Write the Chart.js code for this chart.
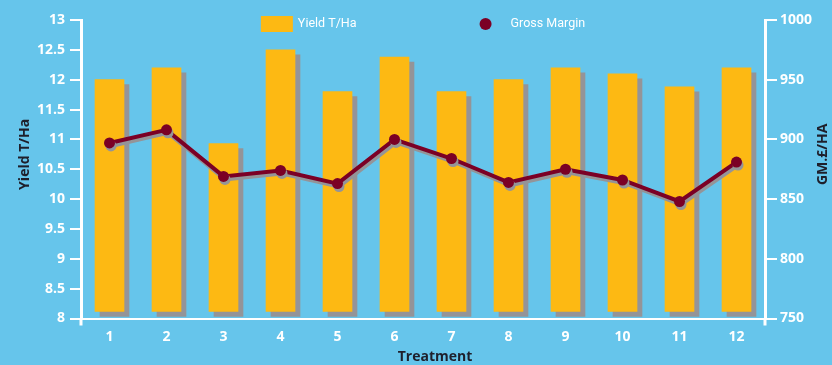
<!DOCTYPE html>
<html>
<head>
<meta charset="utf-8">
<script src="https://cdn.jsdelivr.net/npm/chart.js@4/dist/chart.umd.min.js"></script>
<style>
  html, body { margin: 0; padding: 0; background: #66c5eb; }
  #trialChart { display: block; }
</style>
</head>
<body>
<canvas id="trialChart" width="832" height="365"></canvas>
<script>
const treatments  = ["1", "2", "3", "4", "5", "6", "7", "8", "9", "10", "11", "12"];
const yieldTHa    = [12.0, 12.2, 10.93, 12.5, 11.8, 12.38, 11.8, 12.0, 12.2, 12.1, 11.88, 12.2];
const grossMargin = [897, 908, 869, 874, 863, 900, 884, 864, 875, 866, 848, 881];

const YIELD_MIN = 8, YIELD_MAX = 13, YIELD_STEP = 0.5;
const GM_MIN = 750, GM_MAX = 1000, GM_STEP = 50;
const BAR_BASE = 8.12;

const BLUE   = "#66c5eb";
const YELLOW = "#fdb913";
const MAROON = "#7b0025";
const SHADOW = "#949498";
const WHITE  = "#ffffff";
const INK    = "#1e1f2b";

Chart.defaults.font.family = "'Open Sans', sans-serif";

// drop shadows, axis stubs, titles and the legend strip
const decor = {
    id: "decor",
    beforeDatasetDraw(chart, args) {
        const ds = chart.data.datasets[args.index];
        const ctx = chart.ctx;
        ctx.save();
        ctx.shadowColor = SHADOW;
        ctx.shadowBlur = 0;
        if (ds.type === "bar") {
            ctx.shadowOffsetX = 5;
            ctx.shadowOffsetY = 5;
        } else {
            ctx.shadowOffsetX = 1.5;
            ctx.shadowOffsetY = 3;
        }
    },
    afterDatasetDraw(chart) {
        chart.ctx.restore();
    },
    afterDraw(chart) {
        const ctx = chart.ctx;
        const a = chart.chartArea;
        ctx.save();

        // vertical axes run a little past the baseline
        ctx.strokeStyle = WHITE;
        ctx.lineWidth = 3;
        ctx.beginPath();
        ctx.moveTo(a.left, a.bottom);
        ctx.lineTo(a.left, a.bottom + 7);
        ctx.moveTo(a.right, a.bottom);
        ctx.lineTo(a.right, a.bottom + 7);
        ctx.stroke();

        // axis titles
        ctx.fillStyle = INK;
        ctx.font = "bold 14px 'Open Sans', sans-serif";
        ctx.textAlign = "center";
        ctx.textBaseline = "middle";
        const midY = a.top + (a.bottom - a.top) * 0.45;

        ctx.save();
        ctx.translate(25, midY);
        ctx.rotate(-Math.PI / 2);
        ctx.fillText("Yield T/Ha", 0, 0);
        ctx.restore();

        ctx.save();
        ctx.translate(chart.width - 9, midY);
        ctx.rotate(-Math.PI / 2);
        ctx.fillText("GM.£/HA", 0, 0);
        ctx.restore();

        ctx.fillText("Treatment", (a.left + a.right) / 2 + 12, chart.height - 8);

        // legend
        const bar = chart.data.datasets[0];
        const line = chart.data.datasets[1];
        ctx.font = "12.5px Roboto, sans-serif";
        ctx.textAlign = "left";
        const w1 = ctx.measureText(bar.label).width;
        const w2 = ctx.measureText(line.label).width;
        const boxW = 32, boxH = 16, r = 6, gap = 123;
        const total = boxW + 5 + w1 + gap + 2 * r + 19 + w2;
        let x = (a.left + a.right) / 2 - total / 2;
        const cy = a.top + 4;

        ctx.fillStyle = bar.backgroundColor;
        ctx.fillRect(x, cy - boxH / 2, boxW, boxH);
        x += boxW + 5;
        ctx.fillStyle = WHITE;
        ctx.fillText(bar.label, x, cy);
        x += w1 + gap;

        ctx.fillStyle = line.pointBackgroundColor;
        ctx.beginPath();
        ctx.arc(x + r, cy, r, 0, Math.PI * 2);
        ctx.fill();
        x += 2 * r + 19;
        ctx.fillStyle = WHITE;
        ctx.fillText(line.label, x, cy);

        ctx.restore();
    }
};

new Chart(document.getElementById("trialChart"), {
    data: {
        labels: treatments,
        datasets: [
            {
                type: "bar",
                label: "Yield T/Ha",
                data: yieldTHa,
                base: BAR_BASE,
                yAxisID: "y",
                backgroundColor: YELLOW,
                borderWidth: 0,
                barThickness: 29,
                order: 2
            },
            {
                type: "line",
                label: "Gross Margin",
                data: grossMargin,
                yAxisID: "y1",
                borderColor: MAROON,
                borderWidth: 4,
                tension: 0,
                pointRadius: 5.5,
                pointBackgroundColor: MAROON,
                pointBorderWidth: 0,
                order: 1
            }
        ]
    },
    options: {
        responsive: false,
        animation: false,
        devicePixelRatio: 1,
        layout: { padding: { top: 20, left: 0, right: 0, bottom: 0 } },
        plugins: {
            legend: { display: false },
            tooltip: { enabled: false }
        },
        scales: {
            x: {
                offset: true,
                grid: { display: false },
                border: { display: true, color: WHITE, width: 2 },
                ticks: { color: WHITE, padding: 2, font: { size: 14, weight: "bold" } },
                afterFit: (s) => { s.height = 46.5; }
            },
            y: {
                position: "left",
                min: YIELD_MIN,
                max: YIELD_MAX,
                grid: { drawOnChartArea: false, color: WHITE, lineWidth: 2, tickLength: 11 },
                border: { color: WHITE, width: 3 },
                ticks: {
                    stepSize: YIELD_STEP, color: WHITE, padding: 5,
                    font: { size: 14, weight: "bold" },
                    callback: (v) => String(v)
                },
                afterFit: (s) => { s.width = 81; }
            },
            y1: {
                position: "right",
                min: GM_MIN,
                max: GM_MAX,
                grid: { drawOnChartArea: false, color: WHITE, lineWidth: 2, tickLength: 12 },
                border: { color: WHITE, width: 3 },
                ticks: {
                    stepSize: GM_STEP, color: WHITE, padding: 3,
                    font: { size: 14, weight: "bold" },
                    callback: (v) => String(v)
                },
                afterFit: (s) => { s.width = 67; }
            }
        }
    },
    plugins: [decor]
});
</script>
</body>
</html>
